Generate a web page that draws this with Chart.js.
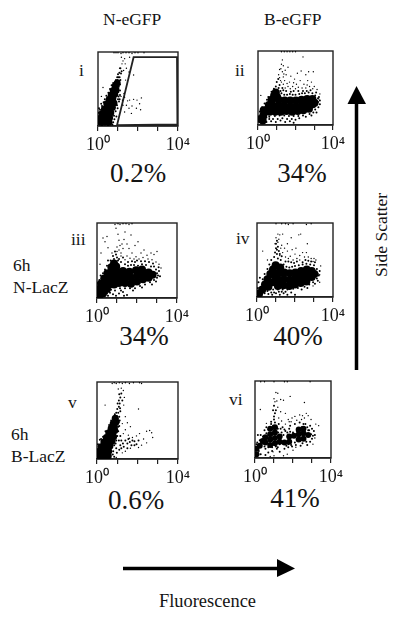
<!DOCTYPE html>
<html>
<head>
<meta charset="utf-8">
<script src="https://cdn.jsdelivr.net/npm/chart.js@4"></script>
<style>
    html, body { margin: 0; background: #fff; }
    #page { position: relative; width: 400px; height: 617px; overflow: hidden; font-family: "Liberation Serif", serif; color: #141414; }
    #page canvas { position: absolute; }
    .t { position: absolute; white-space: nowrap; line-height: 1; font-size: 17.5px; }
    .pct { font-size: 27px; transform: translateX(-50%); }
    svg { position: absolute; left: 0; top: 0; }
</style>
</head>
<body>
<div id="page">
    <div class="t" style="left:103px;top:11px">N-eGFP</div>
    <div class="t" style="left:264px;top:11px">B-eGFP</div>

    <div class="t" style="left:79px;top:62px">i</div>
    <div class="t" style="left:235px;top:62px">ii</div>
    <div class="t" style="left:71px;top:231px">iii</div>
    <div class="t" style="left:236px;top:230px">iv</div>
    <div class="t" style="left:68px;top:394px">v</div>
    <div class="t" style="left:229px;top:391px">vi</div>

    <div class="t" style="left:13px;top:257px">6h</div>
    <div class="t" style="left:13px;top:279px">N-LacZ</div>
    <div class="t" style="left:11px;top:426px">6h</div>
    <div class="t" style="left:11px;top:448px">B-LacZ</div>

    <div class="t pct" style="left:138px;top:160px">0.2%</div>
    <div class="t pct" style="left:302px;top:160px">34%</div>
    <div class="t pct" style="left:144px;top:323px">34%</div>
    <div class="t pct" style="left:298px;top:323px">40%</div>
    <div class="t pct" style="left:136px;top:487px">0.6%</div>
    <div class="t pct" style="left:295px;top:485px">41%</div>

    <div class="t" style="left:159px;top:592px;font-size:18.4px">Fluorescence</div>
    <div class="t" style="left:382px;top:235px;transform:translate(-50%,-50%) rotate(-90deg)">Side Scatter</div>

    <svg width="400" height="617">
        <path d="M356.5 370V100" stroke="#000" stroke-width="3.5"/>
        <path d="M347.5 104L356.5 86L366 104Z" fill="#000"/>
        <path d="M123 568.5H280" stroke="#000" stroke-width="3.5"/>
        <path d="M277 559L295 568.5L277 577Z" fill="#000"/>
    </svg>

    <canvas id="c1"></canvas>
    <canvas id="c2"></canvas>
    <canvas id="c3"></canvas>
    <canvas id="c4"></canvas>
    <canvas id="c5"></canvas>
    <canvas id="c6"></canvas>
</div>
<script>
// x = fluorescence in log decades (0..4), y = side scatter in % of full channel range
const xTicks = [0, 1, 2, 3, 4];
const xLabels = ['10\u2070', '', '', '', '10\u2074'];

const gateI = [[0.95,1],[1.78,93],[3.95,93],[3.97,2],[0.95,1]];

// panel i
const coreI = [[0.14,5],[0.34,5],[0.55,5],[0.14,11],[0.34,11],[0.58,11],[0.2,17],[0.42,17],[0.64,18],[0.32,23],[0.54,24],[0.72,25],[0.44,30],[0.64,30],[0.8,31],[0.56,36],[0.74,37],[0.66,42],[0.84,43],[0.76,48],[0.9,49],[0.86,54],[0.96,58]];
const fringeI = [[0.95,58],[0.98,62],[1.02,66],[1.05,61],[1.0,70],[1.07,72],[0.9,62],[0.85,58],[1.1,56],[1.02,46],[1.1,48],[1.03,40],[1.05,33],[0.95,28],[0.88,20],[0.8,14],[0.82,9],[0.76,5],[0.28,32],[0.2,27],[0.34,36],[0.42,41],[0.52,45],[0.6,50],[0.05,24],[0.03,18],[0.16,30],[0.72,2],[0.5,1],[0.2,1],[1.12,62],[1.15,71],[0.98,24],[1.04,53],[1.08,66],[0.96,66],[1.12,78],[1.18,74],[1.0,36],[0.92,13],[0.68,55],[0.76,58],[0.05,8],[0.1,22],[1.1,42],[1.08,36]];
const strayI = [[1.17,93],[1.33,91],[1.58,93],[1.42,78],[1.55,73],[1.78,69],[1.08,78],[0.25,52],[0.8,99],[0.9,99],[1.0,99],[1.15,98],[1.25,99],[1.4,99],[1.55,99],[1.7,98],[1.85,99],[2.0,99],[2.3,99],[1.33,39],[1.58,35],[1.78,36],[2.17,38],[2.08,30],[1.92,24],[1.55,24],[1.33,19],[1.67,17],[1.95,35],[1.22,35],[1.42,28],[2.13,22],[0.17,40],[1.3,44],[1.2,84],[1.28,75],[1.15,40],[1.25,28],[1.48,34],[1.7,27],[1.38,62],[1.25,88],[1.36,84]];

// panel ii
const coreII = [[0.12,8],[0.28,13],[0.42,20],[0.58,27],[0.72,34],[0.86,40],[0.62,18],[0.82,26],[0.92,18],[1.1,34],[1.12,26],[1.22,18],[1.42,33],[1.42,25],[1.52,19],[1.72,33],[1.72,25],[1.82,18],[2.02,33],[2.02,25],[2.12,19],[2.32,34],[2.32,26],[2.42,20],[2.62,35],[2.62,27],[2.72,22],[2.9,35],[2.92,28],[3.02,30],[0.25,6],[1.02,38],[0.3,20],[0.95,44]];
const fringeII = [[0.1,18],[0.05,10],[0.08,4],[0.22,24],[0.35,29],[0.48,34],[0.55,38],[0.72,45],[0.85,49],[0.95,52],[1.05,46],[1.15,54],[1.25,43],[1.4,41],[1.55,41],[1.7,42],[1.85,41],[2.0,41],[2.2,42],[2.35,43],[2.5,43],[2.7,44],[2.9,43],[3.05,40],[3.2,36],[3.2,31],[3.22,24],[3.05,21],[2.95,17],[2.75,15],[2.4,13],[2.15,12],[1.9,12],[1.65,12],[1.4,13],[1.15,13],[0.9,12],[0.6,11],[0.45,10],[0.3,5],[0.2,3],[0.45,4],[0.7,5],[0.95,4],[1.2,6],[1.45,4],[1.7,5],[1.9,3],[0.6,8],[1.05,8],[1.55,8],[2.0,7],[1.75,45],[1.35,47],[1.0,58],[1.08,62],[2.6,46],[3.1,44],[3.3,28],[1.1,50],[1.2,46],[0.95,46],[1.3,50],[1.5,46],[1.9,46],[2.15,46],[2.4,46],[2.8,47],[3.25,38],[3.3,33],[0.35,9],[0.8,8],[1.3,9],[1.8,8],[2.2,9],[2.55,11],[2.85,13],[3.12,17]];
const strayII = [[1.25,99],[1.4,99],[1.55,99],[1.7,99],[1.85,99],[2.0,99],[1.3,88],[1.35,80],[1.3,72],[1.35,65],[1.2,60],[1.1,68],[1.15,75],[1.25,82],[1.45,74],[1.6,78],[1.75,66],[1.95,62],[2.1,70],[2.3,73],[2.55,68],[2.7,72],[2.65,60],[2.45,55],[2.25,60],[2.05,55],[1.85,52],[1.55,56],[1.35,55],[2.4,92],[2.95,72],[2.85,58],[3.0,52],[3.15,48],[3.3,42],[3.25,35],[0.15,40],[1.5,68],[2.0,49],[2.75,52],[1.45,50],[1.6,52],[1.72,49],[1.25,58],[1.42,60],[1.68,58],[1.9,57],[2.15,51],[2.35,50],[2.55,50],[2.62,54],[2.92,49],[1.15,64],[1.38,69],[1.22,76]];

// panel iii
const coreIII = [[0.12,5],[0.3,6],[0.12,12],[0.32,13],[0.5,12],[0.2,19],[0.42,20],[0.66,18],[0.36,26],[0.6,26],[0.86,18],[0.84,26],[0.52,33],[0.78,34],[1.1,20],[1.1,28],[1.02,35],[0.72,41],[0.96,42],[1.4,20],[1.4,28],[1.3,36],[1.7,19],[1.7,27],[1.62,35],[2.0,22],[2.0,30],[1.95,37],[2.3,25],[2.3,33],[2.25,38],[2.58,27],[2.58,34],[2.78,31],[0.85,46]];
const fringeIII = [[0.05,4],[0.03,12],[0.05,20],[0.12,24],[0.18,30],[0.3,33],[0.4,38],[0.5,43],[0.55,50],[0.68,50],[0.85,52],[0.95,58],[1.05,50],[1.2,48],[1.4,45],[1.55,43],[1.7,44],[1.85,44],[2.05,43],[2.25,45],[2.45,44],[2.7,42],[2.85,42],[2.95,38],[3.0,33],[3.0,27],[2.85,24],[2.65,21],[2.4,18],[2.15,16],[1.9,13],[1.65,13],[1.4,13],[1.15,13],[0.9,10],[0.7,11],[0.5,6],[0.55,3],[0.8,5],[1.1,6],[1.3,8],[1.5,4],[1.1,52],[1.3,54],[2.0,50],[1.75,49],[2.4,49],[2.6,48],[3.05,30],[3.1,36],[0.65,7],[1.35,3],[0.8,56],[1.0,54],[0.9,62],[1.55,48],[1.9,48],[2.2,49],[2.8,46],[3.08,41],[3.15,29],[2.95,22],[2.75,18],[2.25,14],[1.8,10],[1.2,10],[0.95,3],[0.25,1]];
const strayIII = [[0.9,98],[1.05,99],[1.15,98],[1.3,99],[1.45,99],[1.6,98],[1.75,99],[0.3,80],[0.4,75],[0.55,67],[0.2,60],[0.5,82],[0.95,93],[1.05,85],[1.1,77],[1.15,70],[1.0,62],[1.1,64],[1.2,60],[1.35,78],[1.5,72],[1.6,66],[1.75,60],[1.9,70],[2.05,75],[2.2,60],[2.35,64],[2.5,57],[2.7,60],[2.85,58],[3.0,62],[3.1,45],[3.2,40],[1.4,88],[1.7,84],[1.3,66],[1.5,56],[1.95,55],[2.3,54],[2.75,51],[0.15,45],[1.4,51],[1.65,53],[1.85,52],[2.1,52],[2.55,52],[2.95,48],[1.2,56],[1.0,68],[0.75,60],[1.25,72]];

// panel iv
const coreIV = [[0.12,5],[0.28,10],[0.42,17],[0.55,24],[0.7,31],[0.84,37],[0.98,43],[0.6,14],[0.82,20],[0.92,29],[1.1,15],[1.12,23],[1.15,32],[1.22,40],[1.4,16],[1.42,24],[1.44,33],[1.7,15],[1.72,23],[1.72,32],[2.0,17],[2.02,25],[2.02,33],[2.3,19],[2.32,27],[2.32,35],[2.6,21],[2.62,29],[2.62,37],[2.88,27],[2.88,35],[3.02,31]];
const fringeIV = [[0.05,12],[0.08,20],[0.15,26],[0.3,24],[0.4,31],[0.55,38],[0.65,44],[0.75,50],[0.9,54],[1.05,58],[1.1,52],[1.25,50],[1.4,44],[1.55,41],[1.7,40],[1.85,41],[2.0,42],[2.2,43],[2.4,44],[2.6,45],[2.8,44],[3.0,43],[3.15,38],[3.2,31],[3.15,25],[2.95,20],[2.75,17],[2.5,14],[2.15,12],[1.9,11],[1.6,10],[1.35,10],[1.1,10],[0.85,10],[0.55,8],[0.4,5],[0.2,3],[0.6,4],[0.8,3],[1.0,5],[1.2,3],[1.4,5],[1.6,3],[1.8,6],[2.0,3],[0.9,6],[1.3,7],[1.05,64],[1.1,68],[1.0,72],[1.05,76],[1.15,62],[1.95,46],[1.65,48],[2.4,47],[2.55,50],[2.7,49],[3.25,29],[3.2,22],[0.05,4],[1.3,55],[1.5,48],[1.8,47],[2.1,48],[2.85,48],[3.05,47],[3.3,35],[3.05,18],[0.95,60],[1.2,58],[1.0,66],[0.75,6],[1.15,7],[1.5,7],[2.35,10],[2.65,12]];
const strayIV = [[1.0,99],[1.3,99],[1.5,99],[1.65,98],[1.9,99],[2.6,98],[2.85,99],[1.1,85],[1.2,84],[1.35,85],[1.15,78],[2.2,84],[2.3,85],[1.8,80],[1.0,80],[0.95,72],[1.3,70],[1.45,66],[1.6,62],[1.75,55],[1.85,64],[2.0,58],[2.1,52],[2.25,56],[2.4,60],[2.6,60],[2.65,72],[2.7,54],[2.85,52],[3.1,50],[3.35,42],[3.3,30],[3.3,20],[2.95,15],[0.3,62],[0.55,50],[1.6,72],[1.2,56],[2.05,66],[2.95,48],[1.35,60],[1.5,54],[1.65,52],[1.9,50],[2.25,50],[2.5,54],[3.0,52],[1.1,74],[1.25,66]];

// panel v
const coreV = [[0.14,4],[0.34,4],[0.56,4],[0.14,10],[0.34,10],[0.58,10],[0.2,16],[0.42,16],[0.64,17],[0.34,22],[0.56,22],[0.74,23],[0.46,28],[0.66,28],[0.82,29],[0.58,34],[0.78,34],[0.88,37],[0.7,40],[0.86,42],[0.8,46],[0.94,48],[0.9,53]];
const fringeV = [[0.05,2],[0.85,3],[0.8,10],[0.95,14],[0.85,18],[0.95,24],[1.0,30],[1.05,36],[1.05,42],[1.08,48],[1.1,55],[1.05,60],[0.95,60],[1.0,65],[1.08,68],[1.02,72],[1.12,72],[0.88,58],[0.7,50],[0.6,44],[0.42,36],[0.3,29],[0.2,26],[0.05,19],[0.05,13],[1.15,62],[1.15,30],[1.2,24],[1.15,18],[1.28,20],[1.4,24],[1.32,16],[1.5,20],[1.62,22],[1.7,18],[1.85,23],[1.95,19],[2.05,24],[1.1,12],[0.98,8],[1.15,80],[1.2,85],[1.1,84],[1.25,76],[1.02,52],[1.12,50],[1.1,43],[0.98,56],[1.08,76],[1.14,66],[0.92,20],[0.78,6],[1.08,24],[1.2,14],[1.5,14],[1.75,24],[1.55,26],[1.85,18],[0.14,25]];
const strayV = [[0.75,98],[0.85,99],[0.95,98],[1.1,99],[1.25,98],[1.4,99],[1.6,98],[1.8,99],[2.1,99],[2.2,98],[0.4,70],[1.2,92],[1.05,91],[1.3,89],[1.35,80],[1.32,70],[2.05,65],[1.4,55],[1.5,47],[1.65,42],[1.4,38],[1.3,33],[1.55,31],[1.75,28],[1.95,30],[2.1,33],[2.3,26],[2.45,36],[2.6,37],[2.7,34],[2.75,28],[2.45,21],[2.2,18],[2.05,15],[1.65,14],[1.4,10],[1.25,8],[0.95,2],[1.25,46],[1.6,27]];

// panel vi
const coreVI = [[0.08,5],[0.08,12],[0.25,16],[0.4,22],[0.55,20],[0.55,27],[0.8,17],[0.8,24],[0.8,31],[0.8,38],[1.05,19],[1.05,26],[1.05,33],[1.05,40],[1.3,21],[1.3,28],[1.55,20],[1.8,21],[1.8,28],[2.05,29],[2.3,24],[2.3,31],[2.3,37],[2.55,25],[2.55,32],[2.55,38],[2.8,30]];
const fringeVI = [[0.05,3],[0.08,18],[0.2,9],[0.2,15],[0.25,23],[0.35,18],[0.42,28],[0.5,15],[0.6,32],[0.7,37],[0.85,44],[0.95,42],[1.1,40],[1.2,38],[1.22,33],[1.4,33],[1.5,30],[1.45,19],[1.3,18],[1.1,15],[0.9,14],[0.7,14],[1.7,33],[1.75,18],[1.9,17],[2.0,33],[2.1,20],[2.25,38],[2.35,22],[2.45,40],[2.6,38],[2.75,40],[2.85,36],[2.95,31],[3.0,25],[2.9,21],[2.7,21],[2.5,19],[2.25,23],[1.55,37],[1.8,38],[0.85,47],[1.0,50],[1.05,58],[0.95,62],[1.0,68],[0.15,30],[0.3,5],[0.55,4],[1.15,12],[1.3,8],[1.55,12],[1.75,14],[3.1,35],[0.5,36],[0.3,30],[1.85,42],[2.1,44],[2.35,46],[1.05,46],[1.35,38],[1.6,35],[1.85,34],[2.2,35],[2.55,44],[2.8,36],[3.05,29],[2.15,17],[2.4,16],[2.75,17],[1.0,54],[1.1,62],[1.2,14],[1.65,16],[1.95,15],[0.55,12],[0.9,9],[0.7,7],[0.12,20],[0.6,40],[1.25,44],[1.45,40],[2.9,42],[2.65,44],[3.0,38],[3.15,30]];
const strayVI = [[0.3,99],[0.5,99],[1.0,99],[1.55,99],[1.7,99],[2.9,99],[1.1,85],[1.2,84],[1.05,73],[1.15,74],[1.0,77],[1.35,76],[1.5,75],[1.85,80],[2.6,72],[0.28,63],[1.2,66],[1.35,60],[1.6,58],[1.75,50],[1.8,47],[1.95,52],[2.1,54],[2.35,56],[2.5,55],[2.7,58],[2.8,55],[2.95,50],[3.2,44],[3.35,42],[3.15,26],[3.05,18],[2.15,14],[2.0,10],[1.5,3],[1.0,3],[0.8,2],[0.95,8],[1.7,5],[1.25,52],[0.6,45],[1.9,47],[2.2,49],[2.45,50],[2.6,52],[1.6,44],[1.4,48]];

const toPoints = (list) => list.map(([x, y]) => ({ x, y }));

const framePlugin = {
    id: 'frame',
    beforeDatasetsDraw(chart) {
        const { ctx, chartArea: a } = chart;
        ctx.save();
        ctx.strokeStyle = '#222';
        ctx.lineWidth = 1.4;
        ctx.strokeRect(a.left, a.top, a.right - a.left, a.bottom - a.top);
        ctx.restore();
    }
};

function drawPanel(id, box, core, fringe, stray, coreRadius, gate) {
    const padX = 30, padTop = 4, axisH = 30;
    const canvas = document.getElementById(id);
    canvas.style.left = (box.x - padX) + 'px';
    canvas.style.top = (box.y - padTop) + 'px';
    canvas.style.width = (box.w + 2 * padX) + 'px';
    canvas.style.height = (box.h + padTop + axisH) + 'px';
    canvas.width = box.w + 2 * padX;
    canvas.height = box.h + padTop + axisH;

    const dot = (data, r) => ({ data: toPoints(data), pointRadius: r, pointBorderWidth: 0, backgroundColor: '#000', showLine: false });
    const datasets = [dot(core, coreRadius), dot(fringe, 1), dot(stray, 0.7)];
    if (gate) {
        datasets.push({ data: toPoints(gate), showLine: true, borderColor: '#222', borderWidth: 1.8, pointRadius: 0, tension: 0, fill: false });
    }

    new Chart(canvas, {
        type: 'scatter',
        data: { datasets },
        plugins: [framePlugin],
        options: {
            responsive: false,
            animation: false,
            layout: { padding: { left: padX, right: padX, top: padTop, bottom: 0 } },
            plugins: { legend: { display: false }, tooltip: { enabled: false } },
            scales: {
                x: {
                    type: 'linear',
                    min: 0,
                    max: 4,
                    afterFit: (s) => { s.height = axisH; },
                    afterBuildTicks: (s) => { s.ticks = xTicks.map((value) => ({ value })); },
                    border: { color: '#222', width: 1.4 },
                    grid: { drawOnChartArea: false, color: '#222', lineWidth: 1.2, tickLength: 5 },
                    ticks: {
                        autoSkip: false,
                        maxRotation: 0,
                        padding: 3,
                        color: '#141414',
                        font: { family: '"Liberation Serif", serif', size: 18 },
                        callback: (v) => xLabels[xTicks.indexOf(v)]
                    }
                },
                y: { type: 'linear', min: 0, max: 100, display: false }
            }
        }
    });
}

drawPanel('c1', { x: 98, y: 52, w: 80, h: 74 }, coreI, fringeI, strayI, 3.5, gateI);
drawPanel('c2', { x: 258, y: 51, w: 75, h: 74 }, coreII, fringeII, strayII, 4);
drawPanel('c3', { x: 97, y: 223, w: 80, h: 75 }, coreIII, fringeIII, strayIII, 4);
drawPanel('c4', { x: 257, y: 223, w: 76, h: 74 }, coreIV, fringeIV, strayIV, 4);
drawPanel('c5', { x: 97, y: 382, w: 81, h: 77 }, coreV, fringeV, strayV, 3.5);
drawPanel('c6', { x: 255, y: 381, w: 76, h: 77 }, coreVI, fringeVI, strayVI, 3);
</script>
</body>
</html>
